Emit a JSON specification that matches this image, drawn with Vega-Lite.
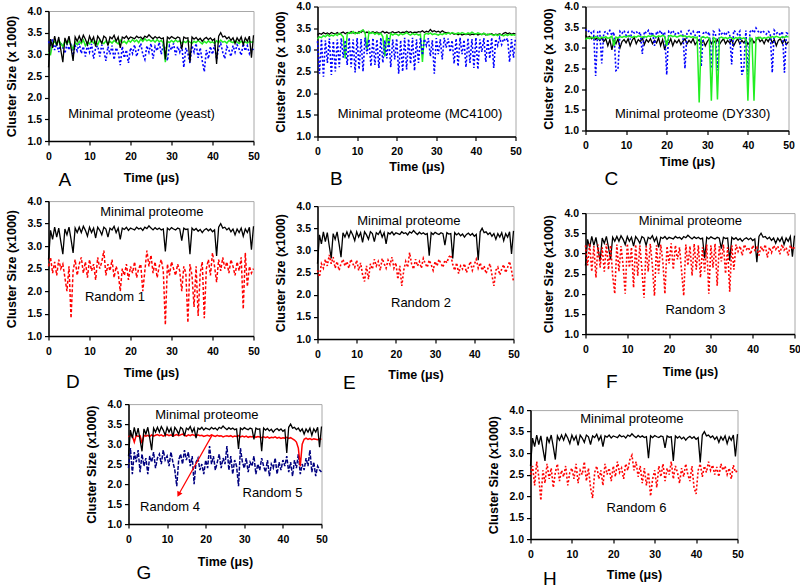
{
"$schema": "https://vega.github.io/schema/vega-lite/v6.json",
"background": "white",
"padding": {"left": 4.5, "top": 0.5, "right": 0, "bottom": 0},
"config": {
 "view": {"stroke": "#a8a8a8", "strokeWidth": 1},
 "axis": {"labelFont": "Liberation Sans", "labelFontSize": 10.5, "labelFontWeight": "bold", "labelColor": "black", "titleFont": "Liberation Sans", "titleFontSize": 12.5, "titleFontWeight": "bold", "titleColor": "black", "domainColor": "black", "domainWidth": 1.5, "tickColor": "black", "tickSize": 4, "tickWidth": 1.2, "grid": false, "labelFlush": false, "labelOverlap": false},
 "axisX": {"labelPadding": 6},
 "axisY": {"labelPadding": 3, "titlePadding": 8},
 "text": {"font": "Liberation Sans", "fontSize": 13, "color": "black"},
 "title": {"orient": "bottom", "anchor": "start", "font": "Liberation Sans", "fontSize": 19, "fontWeight": "normal", "color": "black", "offset": 0, "frame": "group"}
},
"datasets": {"ts": [
{"t":0,"mp":2.70,"bk":3.35,"bg":3.25,"bb":3.20,"ag":3.05,"ab":3.30,"ck":3.30,"cb":3.45,"cg":3.20,"dr":2.55,"er":2.55,"fr":3.20,"gr":3.18,"gb":2.40,"hr":2.50},
{"t":0.5,"mp":3.35,"bk":3.38,"bg":3.30,"bb":2.45,"ag":3.00,"ab":3.22,"ck":3.25,"cb":3.38,"cg":3.24,"dr":2.75,"er":2.40,"fr":2.70,"gr":3.22,"gb":2.90,"hr":2.70},
{"t":1,"mp":3.15,"bk":3.36,"bg":3.28,"bb":3.25,"ag":3.25,"ab":3.35,"ck":3.28,"cb":3.42,"cg":3.22,"dr":2.40,"er":2.70,"fr":3.25,"gr":3.20,"gb":2.25,"hr":2.25},
{"t":1.5,"mp":3.42,"bk":3.40,"bg":3.33,"bb":2.38,"ag":3.30,"ab":3.10,"ck":3.22,"cb":3.35,"cg":3.26,"dr":2.65,"er":2.60,"fr":2.55,"gr":3.05,"gb":2.80,"hr":2.80},
{"t":2,"mp":3.20,"bk":3.37,"bg":3.30,"bb":3.22,"ag":3.22,"ab":3.25,"ck":3.27,"cb":3.40,"cg":3.23,"dr":2.35,"er":2.80,"fr":3.18,"gr":3.22,"gb":2.55,"hr":2.45},
{"t":2.5,"mp":3.40,"bk":3.39,"bg":3.35,"bb":2.70,"ag":3.32,"ab":3.05,"ck":3.20,"cb":2.32,"cg":3.27,"dr":2.70,"er":2.65,"fr":2.40,"gr":3.19,"gb":2.85,"hr":1.90},
{"t":3,"mp":3.10,"bk":3.36,"bg":3.31,"bb":3.26,"ag":3.25,"ab":3.28,"ck":3.25,"cb":3.38,"cg":3.25,"dr":2.50,"er":2.90,"fr":3.22,"gr":3.21,"gb":2.30,"hr":2.60},
{"t":3.5,"mp":2.82,"bk":3.40,"bg":3.34,"bb":2.42,"ag":3.18,"ab":3.15,"ck":3.18,"cb":3.42,"cg":3.22,"dr":2.60,"er":2.70,"fr":2.65,"gr":3.02,"gb":2.75,"hr":2.30},
{"t":4,"mp":3.38,"bk":3.38,"bg":3.32,"bb":3.20,"ag":3.30,"ab":3.02,"ck":3.24,"cb":2.62,"cg":3.26,"dr":2.30,"er":2.85,"fr":3.15,"gr":3.22,"gb":2.45,"hr":2.75},
{"t":4.5,"mp":3.25,"bk":3.37,"bg":3.36,"bb":2.50,"ag":3.24,"ab":3.24,"ck":3.15,"cb":3.36,"cg":3.24,"dr":2.00,"er":2.60,"fr":2.55,"gr":3.20,"gb":2.65,"hr":2.40},
{"t":5,"mp":3.42,"bk":3.40,"bg":3.33,"bb":3.24,"ag":3.32,"ab":3.10,"ck":3.22,"cb":3.40,"cg":3.27,"dr":2.55,"er":2.75,"fr":3.24,"gr":3.22,"gb":2.25,"hr":2.65},
{"t":5.5,"mp":3.15,"bk":3.36,"bg":3.38,"bb":2.60,"ag":3.20,"ab":3.26,"ck":3.05,"cb":3.34,"cg":3.23,"dr":1.40,"er":2.55,"fr":2.60,"gr":3.19,"gb":2.70,"hr":2.20},
{"t":6,"mp":2.85,"bk":3.39,"bg":3.35,"bb":3.27,"ag":3.12,"ab":2.98,"ck":3.20,"cb":3.42,"cg":3.25,"dr":2.45,"er":2.70,"fr":3.20,"gr":3.23,"gb":2.55,"hr":2.55},
{"t":6.5,"mp":3.40,"bk":3.41,"bg":3.30,"bb":2.82,"ag":3.28,"ab":3.20,"ck":2.95,"cb":3.30,"cg":3.28,"dr":2.70,"er":2.80,"fr":2.45,"gr":3.20,"gb":2.80,"hr":2.75},
{"t":7,"mp":3.30,"bk":3.37,"bg":2.80,"bb":3.22,"ag":3.22,"ab":3.08,"ck":3.18,"cb":3.38,"cg":3.05,"dr":2.35,"er":2.65,"fr":2.00,"gr":3.22,"gb":2.40,"hr":2.35},
{"t":7.5,"mp":3.42,"bk":3.40,"bg":3.36,"bb":2.65,"ag":3.30,"ab":3.25,"ck":3.10,"cb":2.45,"cg":3.26,"dr":2.60,"er":2.75,"fr":3.22,"gr":3.24,"gb":2.65,"hr":2.60},
{"t":8,"mp":3.30,"bk":3.38,"bg":3.40,"bb":3.28,"ag":3.25,"ab":3.02,"ck":3.22,"cb":2.48,"cg":3.24,"dr":2.75,"er":2.60,"fr":2.55,"gr":3.21,"gb":2.75,"hr":2.45},
{"t":8.5,"mp":3.44,"bk":3.42,"bg":3.38,"bb":2.60,"ag":3.33,"ab":3.18,"ck":3.00,"cb":3.40,"cg":3.27,"dr":2.40,"er":2.80,"fr":3.18,"gr":3.23,"gb":2.50,"hr":2.70},
{"t":9,"mp":3.35,"bk":3.39,"bg":3.42,"bb":3.24,"ag":3.20,"ab":2.95,"ck":3.15,"cb":3.35,"cg":3.25,"dr":2.65,"er":2.70,"fr":2.70,"gr":3.20,"gb":2.85,"hr":2.25},
{"t":9.5,"mp":3.22,"bk":3.40,"bg":3.37,"bb":2.48,"ag":3.28,"ab":3.22,"ck":3.20,"cb":3.42,"cg":3.28,"dr":2.30,"er":2.62,"fr":2.00,"gr":3.22,"gb":2.60,"hr":2.55},
{"t":10,"mp":3.42,"bk":3.38,"bg":3.40,"bb":3.27,"ag":3.24,"ab":3.05,"ck":3.12,"cb":3.30,"cg":3.26,"dr":2.70,"er":2.78,"fr":3.24,"gr":3.24,"gb":2.70,"hr":2.65},
{"t":10.5,"mp":3.30,"bk":3.42,"bg":3.38,"bb":2.55,"ag":3.32,"ab":3.24,"ck":3.22,"cb":3.38,"cg":3.29,"dr":2.45,"er":2.55,"fr":2.65,"gr":3.21,"gb":2.45,"hr":2.40},
{"t":11,"mp":3.40,"bk":3.40,"bg":3.43,"bb":3.25,"ag":3.26,"ab":2.90,"ck":3.05,"cb":3.20,"cg":3.27,"dr":2.60,"er":2.72,"fr":3.15,"gr":3.23,"gb":2.80,"hr":2.75},
{"t":11.5,"mp":3.18,"bk":3.45,"bg":3.46,"bb":2.50,"ag":3.30,"ab":3.15,"ck":3.18,"cb":3.42,"cg":3.25,"dr":2.25,"er":2.45,"fr":2.15,"gr":3.20,"gb":2.55,"hr":2.30},
{"t":12,"mp":3.42,"bk":3.39,"bg":3.40,"bb":3.28,"ag":3.22,"ab":3.20,"ck":3.25,"cb":3.36,"cg":3.28,"dr":2.75,"er":2.30,"fr":3.22,"gr":3.22,"gb":2.35,"hr":2.60},
{"t":12.5,"mp":3.35,"bk":3.41,"bg":3.02,"bb":2.90,"ag":3.33,"ab":2.95,"ck":3.10,"cb":3.40,"cg":3.26,"dr":2.50,"er":2.65,"fr":2.45,"gr":3.24,"gb":1.95,"hr":2.50},
{"t":13,"mp":3.25,"bk":3.38,"bg":3.42,"bb":3.24,"ag":3.27,"ab":3.22,"ck":3.20,"cb":3.33,"cg":3.29,"dr":2.65,"er":2.35,"fr":3.20,"gr":3.21,"gb":2.60,"hr":2.80},
{"t":13.5,"mp":3.42,"bk":3.40,"bg":3.38,"bb":2.62,"ag":3.25,"ab":3.08,"ck":3.15,"cb":3.38,"cg":3.27,"dr":2.90,"er":2.70,"fr":2.60,"gr":3.23,"gb":2.75,"hr":2.35},
{"t":14,"mp":3.38,"bk":3.42,"bg":3.40,"bb":3.27,"ag":3.31,"ab":2.85,"ck":3.24,"cb":2.85,"cg":3.25,"dr":2.35,"er":2.58,"fr":1.90,"gr":3.25,"gb":2.50,"hr":2.65},
{"t":14.5,"mp":3.20,"bk":3.39,"bg":3.36,"bb":2.65,"ag":3.24,"ab":3.18,"ck":3.08,"cb":3.40,"cg":3.28,"dr":2.60,"er":2.80,"fr":3.18,"gr":3.22,"gb":2.85,"hr":2.20},
{"t":15,"mp":3.40,"bk":3.41,"bg":3.39,"bb":3.24,"ag":3.30,"ab":3.00,"ck":3.20,"cb":3.35,"cg":3.26,"dr":2.45,"er":2.65,"fr":2.55,"gr":3.20,"gb":2.60,"hr":1.95},
{"t":15.5,"mp":3.36,"bk":3.38,"bg":3.35,"bb":2.58,"ag":3.26,"ab":3.20,"ck":3.14,"cb":3.42,"cg":3.29,"dr":2.70,"er":2.75,"fr":3.24,"gr":3.23,"gb":2.80,"hr":2.55},
{"t":16,"mp":3.44,"bk":3.40,"bg":3.38,"bb":3.28,"ag":3.32,"ab":2.88,"ck":3.22,"cb":3.30,"cg":3.27,"dr":2.30,"er":2.55,"fr":2.70,"gr":3.21,"gb":2.45,"hr":2.70},
{"t":16.5,"mp":3.30,"bk":3.43,"bg":3.30,"bb":2.70,"ag":3.28,"ab":3.15,"ck":3.10,"cb":3.38,"cg":3.30,"dr":2.55,"er":2.82,"fr":1.95,"gr":3.24,"gb":2.70,"hr":2.40},
{"t":17,"mp":3.40,"bk":3.39,"bg":2.85,"bb":3.22,"ag":3.24,"ab":3.05,"ck":3.18,"cb":3.05,"cg":3.28,"dr":2.40,"er":2.70,"fr":3.20,"gr":3.22,"gb":2.00,"hr":2.60},
{"t":17.5,"mp":3.15,"bk":3.41,"bg":3.36,"bb":2.80,"ag":3.33,"ab":2.75,"ck":3.12,"cb":3.40,"cg":3.26,"dr":2.00,"er":2.60,"fr":2.50,"gr":3.20,"gb":2.55,"hr":2.25},
{"t":18,"mp":3.40,"bk":3.38,"bg":3.10,"bb":3.27,"ag":3.27,"ab":3.18,"ck":3.24,"cb":3.34,"cg":3.29,"dr":2.50,"er":2.78,"fr":3.22,"gr":3.23,"gb":2.65,"hr":2.75},
{"t":18.5,"mp":3.37,"bk":3.40,"bg":3.38,"bb":2.60,"ag":3.30,"ab":2.92,"ck":3.05,"cb":3.42,"cg":3.27,"dr":2.35,"er":2.68,"fr":2.80,"gr":3.21,"gb":2.35,"hr":2.50},
{"t":19,"mp":3.42,"bk":3.42,"bg":3.34,"bb":3.24,"ag":3.25,"ab":3.10,"ck":3.20,"cb":3.30,"cg":3.30,"dr":2.60,"er":2.85,"fr":2.00,"gr":3.22,"gb":2.50,"hr":2.65},
{"t":19.5,"mp":3.35,"bk":3.39,"bg":3.37,"bb":2.78,"ag":3.32,"ab":2.80,"ck":2.95,"cb":3.38,"cg":3.28,"dr":2.25,"er":2.60,"fr":3.18,"gr":3.19,"gb":2.25,"hr":2.35},
{"t":20,"mp":3.40,"bk":3.40,"bg":3.36,"bb":3.26,"ag":3.28,"ab":3.15,"ck":3.15,"cb":2.35,"cg":3.05,"dr":2.55,"er":2.72,"fr":2.75,"gr":3.21,"gb":2.60,"hr":2.70},
{"t":20.5,"mp":3.38,"bk":3.42,"bg":3.33,"bb":2.45,"ag":3.34,"ab":3.02,"ck":3.10,"cb":3.40,"cg":3.28,"dr":2.40,"er":2.35,"fr":3.25,"gr":3.22,"gb":2.40,"hr":2.45},
{"t":21,"mp":3.36,"bk":3.39,"bg":3.38,"bb":3.22,"ag":3.29,"ab":3.22,"ck":3.22,"cb":3.36,"cg":3.30,"dr":2.65,"er":2.65,"fr":2.60,"gr":3.20,"gb":2.95,"hr":2.80},
{"t":21.5,"mp":3.42,"bk":3.41,"bg":3.35,"bb":2.50,"ag":3.33,"ab":2.95,"ck":3.05,"cb":3.42,"cg":3.27,"dr":2.30,"er":2.20,"fr":3.20,"gr":3.23,"gb":2.50,"hr":2.55},
{"t":22,"mp":3.38,"bk":3.40,"bg":3.37,"bb":3.28,"ag":3.27,"ab":3.12,"ck":3.18,"cb":3.32,"cg":3.29,"dr":2.50,"er":2.55,"fr":2.85,"gr":3.21,"gb":2.70,"hr":2.65},
{"t":22.5,"mp":3.40,"bk":3.43,"bg":3.40,"bb":2.55,"ag":3.35,"ab":3.25,"ck":3.12,"cb":3.38,"cg":3.26,"dr":2.60,"er":2.75,"fr":3.15,"gr":3.19,"gb":2.35,"hr":2.40},
{"t":23,"mp":3.35,"bk":3.40,"bg":3.36,"bb":3.25,"ag":3.30,"ab":3.00,"ck":3.20,"cb":3.35,"cg":3.28,"dr":2.00,"er":2.62,"fr":2.55,"gr":3.22,"gb":2.55,"hr":2.75},
{"t":23.5,"mp":3.42,"bk":3.42,"bg":3.34,"bb":2.68,"ag":3.36,"ab":2.88,"ck":3.08,"cb":3.40,"cg":3.30,"dr":2.45,"er":2.95,"fr":1.95,"gr":3.20,"gb":2.75,"hr":2.60},
{"t":24,"mp":3.39,"bk":3.39,"bg":3.38,"bb":3.28,"ag":3.31,"ab":3.20,"ck":3.16,"cb":3.30,"cg":3.27,"dr":2.90,"er":2.70,"fr":3.22,"gr":3.21,"gb":2.40,"hr":2.85},
{"t":24.5,"mp":3.45,"bk":3.41,"bg":3.35,"bb":2.52,"ag":3.34,"ab":3.05,"ck":3.22,"cb":2.50,"cg":3.29,"dr":2.55,"er":2.58,"fr":2.70,"gr":3.18,"gb":2.65,"hr":2.95},
{"t":25,"mp":3.40,"bk":3.40,"bg":3.37,"bb":3.24,"ag":3.30,"ab":3.25,"ck":3.10,"cb":3.38,"cg":3.26,"dr":2.80,"er":2.80,"fr":3.18,"gr":3.20,"gb":2.50,"hr":2.60},
{"t":25.5,"mp":3.36,"bk":3.42,"bg":3.34,"bb":2.70,"ag":3.33,"ab":2.90,"ck":3.18,"cb":3.42,"cg":3.28,"dr":2.40,"er":2.65,"fr":2.45,"gr":3.21,"gb":2.95,"hr":2.80},
{"t":26,"mp":3.41,"bk":3.41,"bg":3.36,"bb":3.27,"ag":3.28,"ab":3.18,"ck":3.12,"cb":3.34,"cg":3.25,"dr":2.65,"er":2.75,"fr":3.24,"gr":3.19,"gb":2.35,"hr":2.45},
{"t":26.5,"mp":3.37,"bk":3.44,"bg":2.72,"bb":2.88,"ag":3.34,"ab":3.08,"ck":3.22,"cb":3.40,"cg":3.27,"dr":2.30,"er":2.60,"fr":2.60,"gr":3.21,"gb":2.70,"hr":2.70},
{"t":27,"mp":3.40,"bk":3.40,"bg":3.35,"bb":3.25,"ag":3.29,"ab":3.28,"ck":3.08,"cb":3.30,"cg":3.24,"dr":2.55,"er":2.82,"fr":3.20,"gr":3.18,"gb":2.25,"hr":2.30},
{"t":27.5,"mp":3.36,"bk":3.43,"bg":3.38,"bb":3.10,"ag":3.32,"ab":3.00,"ck":3.15,"cb":3.37,"cg":3.26,"dr":2.70,"er":2.70,"fr":2.40,"gr":3.20,"gb":2.60,"hr":2.65},
{"t":28,"mp":3.38,"bk":3.41,"bg":3.36,"bb":3.27,"ag":3.26,"ab":3.22,"ck":3.20,"cb":3.42,"cg":1.68,"dr":2.45,"er":2.62,"fr":3.15,"gr":3.19,"gb":2.45,"hr":2.25},
{"t":28.5,"mp":2.88,"bk":3.47,"bg":3.39,"bb":2.85,"ag":2.82,"ab":3.12,"ck":3.10,"cb":2.55,"cg":3.25,"dr":1.25,"er":2.78,"fr":2.55,"gr":3.21,"gb":1.95,"hr":2.55},
{"t":29,"mp":3.40,"bk":3.42,"bg":3.35,"bb":3.22,"ag":3.30,"ab":2.85,"ck":3.18,"cb":3.35,"cg":3.27,"dr":2.60,"er":2.68,"fr":3.22,"gr":3.18,"gb":2.90,"hr":2.00},
{"t":29.5,"mp":3.36,"bk":3.44,"bg":3.37,"bb":2.45,"ag":3.27,"ab":3.20,"ck":3.05,"cb":3.40,"cg":3.24,"dr":2.35,"er":2.55,"fr":2.00,"gr":3.20,"gb":2.55,"hr":2.40},
{"t":30,"mp":3.41,"bk":3.41,"bg":3.36,"bb":3.27,"ag":3.32,"ab":3.10,"ck":3.15,"cb":3.32,"cg":3.26,"dr":2.65,"er":2.75,"fr":3.20,"gr":3.18,"gb":2.40,"hr":2.60},
{"t":30.5,"mp":3.38,"bk":3.43,"bg":3.34,"bb":2.90,"ag":3.28,"ab":3.25,"ck":3.22,"cb":3.38,"cg":3.23,"dr":2.50,"er":2.65,"fr":2.65,"gr":3.20,"gb":2.65,"hr":2.20},
{"t":31,"mp":3.36,"bk":3.40,"bg":3.37,"bb":3.24,"ag":3.33,"ab":2.98,"ck":3.10,"cb":2.50,"cg":1.72,"dr":2.35,"er":2.80,"fr":3.24,"gr":3.17,"gb":2.30,"hr":2.70},
{"t":31.5,"mp":3.40,"bk":3.44,"bg":3.35,"bb":2.78,"ag":3.29,"ab":3.18,"ck":3.18,"cb":3.40,"cg":3.25,"dr":2.60,"er":2.70,"fr":2.20,"gr":3.19,"gb":2.55,"hr":2.45},
{"t":32,"mp":3.38,"bk":3.41,"bg":3.38,"bb":3.28,"ag":3.31,"ab":3.05,"ck":3.12,"cb":3.36,"cg":3.22,"dr":2.45,"er":2.62,"fr":3.18,"gr":3.18,"gb":2.45,"hr":2.75},
{"t":32.5,"mp":3.12,"bk":3.39,"bg":3.36,"bb":3.05,"ag":3.26,"ab":3.22,"ck":3.20,"cb":2.45,"cg":1.75,"dr":2.00,"er":2.78,"fr":2.80,"gr":3.20,"gb":2.70,"hr":2.35},
{"t":33,"mp":3.40,"bk":3.40,"bg":3.39,"bb":3.26,"ag":3.30,"ab":2.70,"ck":3.08,"cb":3.42,"cg":3.24,"dr":2.55,"er":2.72,"fr":3.22,"gr":3.17,"gb":2.25,"hr":2.65},
{"t":33.5,"mp":3.37,"bk":3.37,"bg":3.37,"bb":2.95,"ag":3.27,"ab":3.15,"ck":3.16,"cb":3.34,"cg":3.26,"dr":2.40,"er":2.85,"fr":2.50,"gr":3.19,"gb":2.50,"hr":2.50},
{"t":34,"mp":3.38,"bk":3.39,"bg":3.40,"bb":3.22,"ag":3.32,"ab":3.02,"ck":3.22,"cb":3.38,"cg":3.23,"dr":1.30,"er":2.90,"fr":3.15,"gr":3.18,"gb":2.35,"hr":2.80},
{"t":34.5,"mp":2.82,"bk":3.36,"bg":3.38,"bb":2.68,"ag":3.28,"ab":2.80,"ck":3.10,"cb":3.30,"cg":3.25,"dr":2.60,"er":2.68,"fr":2.05,"gr":3.16,"gb":2.65,"hr":2.40},
{"t":35,"mp":3.40,"bk":3.38,"bg":3.36,"bb":3.26,"ag":3.25,"ab":3.20,"ck":3.18,"cb":3.40,"cg":3.22,"dr":2.35,"er":2.55,"fr":3.20,"gr":3.18,"gb":2.45,"hr":2.70},
{"t":35.5,"mp":3.35,"bk":3.35,"bg":3.39,"bb":2.62,"ag":3.30,"ab":3.05,"ck":3.12,"cb":3.35,"cg":3.26,"dr":1.65,"er":2.72,"fr":2.60,"gr":3.16,"gb":2.30,"hr":2.55},
{"t":36,"mp":3.39,"bk":3.37,"bg":3.37,"bb":3.28,"ag":3.27,"ab":3.25,"ck":3.20,"cb":2.60,"cg":3.24,"dr":2.55,"er":2.48,"fr":3.22,"gr":3.18,"gb":2.60,"hr":2.30},
{"t":36.5,"mp":3.33,"bk":3.34,"bg":3.40,"bb":2.90,"ag":3.32,"ab":2.92,"ck":3.05,"cb":3.42,"cg":3.21,"dr":1.45,"er":2.65,"fr":3.05,"gr":3.15,"gb":2.20,"hr":2.65},
{"t":37,"mp":3.37,"bk":3.36,"bg":3.38,"bb":3.23,"ag":3.28,"ab":3.15,"ck":3.15,"cb":3.38,"cg":3.25,"dr":2.40,"er":2.58,"fr":3.18,"gr":3.17,"gb":2.50,"hr":2.45},
{"t":37.5,"mp":3.30,"bk":3.35,"bg":3.36,"bb":2.60,"ag":3.24,"ab":2.85,"ck":3.22,"cb":3.32,"cg":3.23,"dr":2.65,"er":2.70,"fr":2.95,"gr":3.16,"gb":2.40,"hr":2.75},
{"t":38,"mp":3.36,"bk":3.37,"bg":3.39,"bb":3.27,"ag":3.30,"ab":2.60,"ck":3.10,"cb":3.40,"cg":3.26,"dr":1.40,"er":2.50,"fr":3.22,"gr":3.18,"gb":2.65,"hr":2.50},
{"t":38.5,"mp":3.39,"bk":3.34,"bg":3.37,"bb":2.70,"ag":3.26,"ab":3.10,"ck":3.18,"cb":2.35,"cg":3.22,"dr":2.50,"er":2.62,"fr":3.10,"gr":3.15,"gb":2.25,"hr":2.35},
{"t":39,"mp":3.34,"bk":3.36,"bg":3.41,"bb":3.25,"ag":3.31,"ab":2.90,"ck":3.12,"cb":2.50,"cg":3.24,"dr":2.70,"er":2.75,"fr":3.15,"gr":3.17,"gb":2.55,"hr":2.70},
{"t":39.5,"mp":3.38,"bk":3.35,"bg":3.38,"bb":2.58,"ag":3.27,"ab":3.18,"ck":3.20,"cb":3.42,"cg":3.21,"dr":2.35,"er":2.55,"fr":2.98,"gr":3.14,"gb":2.35,"hr":2.20},
{"t":40,"mp":3.32,"bk":3.37,"bg":3.36,"bb":3.28,"ag":3.29,"ab":3.00,"ck":3.08,"cb":2.35,"cg":1.72,"dr":2.85,"er":2.68,"fr":3.20,"gr":3.16,"gb":2.60,"hr":2.05},
{"t":40.5,"mp":3.36,"bk":3.34,"bg":3.39,"bb":2.55,"ag":3.25,"ab":3.22,"ck":3.15,"cb":3.38,"cg":3.24,"dr":2.55,"er":2.80,"fr":3.08,"gr":3.15,"gb":2.45,"hr":2.60},
{"t":41,"mp":2.78,"bk":3.36,"bg":3.37,"bb":3.24,"ag":3.31,"ab":2.88,"ck":3.22,"cb":3.44,"cg":3.22,"dr":2.20,"er":2.60,"fr":3.15,"gr":3.17,"gb":2.70,"hr":2.75},
{"t":41.5,"mp":3.42,"bk":3.35,"bg":3.35,"bb":2.95,"ag":3.27,"ab":3.15,"ck":3.12,"cb":3.36,"cg":1.72,"dr":2.70,"er":2.72,"fr":2.95,"gr":3.14,"gb":2.30,"hr":2.45},
{"t":42,"mp":3.50,"bk":3.38,"bg":3.38,"bb":3.27,"ag":3.33,"ab":3.25,"ck":3.18,"cb":3.48,"cg":3.25,"dr":2.45,"er":2.55,"fr":3.18,"gr":3.16,"gb":2.55,"hr":2.70},
{"t":42.5,"mp":3.40,"bk":3.34,"bg":3.36,"bb":2.72,"ag":3.28,"ab":3.05,"ck":3.25,"cb":3.40,"cg":3.23,"dr":2.75,"er":2.65,"fr":3.05,"gr":3.13,"gb":2.20,"hr":2.55},
{"t":43,"mp":3.42,"bk":3.36,"bg":3.34,"bb":3.25,"ag":3.30,"ab":2.90,"ck":3.15,"cb":3.35,"cg":3.26,"dr":2.50,"er":2.48,"fr":3.22,"gr":3.10,"gb":2.60,"hr":2.80},
{"t":43.5,"mp":3.36,"bk":3.35,"bg":3.37,"bb":2.80,"ag":3.26,"ab":3.18,"ck":3.20,"cb":3.42,"cg":3.22,"dr":2.65,"er":2.60,"fr":2.90,"gr":3.05,"gb":2.40,"hr":2.60},
{"t":44,"mp":3.40,"bk":3.37,"bg":3.35,"bb":3.28,"ag":3.32,"ab":3.10,"ck":3.10,"cb":3.38,"cg":3.25,"dr":2.40,"er":2.70,"fr":3.15,"gr":2.90,"gb":2.75,"hr":2.72},
{"t":44.5,"mp":3.32,"bk":3.34,"bg":3.33,"bb":2.58,"ag":3.29,"ab":2.95,"ck":3.22,"cb":3.33,"cg":3.23,"dr":2.70,"er":2.45,"fr":3.02,"gr":2.45,"gb":2.25,"hr":2.50},
{"t":45,"mp":3.38,"bk":3.36,"bg":3.35,"bb":3.25,"ag":3.27,"ab":3.20,"ck":3.15,"cb":3.40,"cg":3.26,"dr":2.55,"er":2.20,"fr":3.20,"gr":3.00,"gb":2.50,"hr":2.68},
{"t":45.5,"mp":3.25,"bk":3.35,"bg":3.33,"bb":3.10,"ag":3.31,"ab":3.05,"ck":3.25,"cb":3.36,"cg":3.24,"dr":2.35,"er":2.55,"fr":3.10,"gr":3.12,"gb":2.35,"hr":2.45},
{"t":46,"mp":3.38,"bk":3.37,"bg":3.36,"bb":3.28,"ag":3.28,"ab":3.22,"ck":3.12,"cb":2.40,"cg":3.27,"dr":2.65,"er":2.62,"fr":3.18,"gr":3.15,"gb":2.65,"hr":2.75},
{"t":46.5,"mp":3.30,"bk":3.34,"bg":3.34,"bb":3.12,"ag":3.25,"ab":3.12,"ck":3.20,"cb":3.42,"cg":3.25,"dr":2.45,"er":2.45,"fr":2.98,"gr":3.12,"gb":2.45,"hr":2.60},
{"t":47,"mp":3.40,"bk":3.38,"bg":3.32,"bb":3.26,"ag":3.30,"ab":2.98,"ck":3.05,"cb":3.35,"cg":3.28,"dr":2.75,"er":2.58,"fr":3.22,"gr":3.14,"gb":2.85,"hr":2.70},
{"t":47.5,"mp":3.22,"bk":3.40,"bg":3.35,"bb":3.20,"ag":3.27,"ab":3.25,"ck":3.18,"cb":3.38,"cg":3.26,"dr":1.60,"er":2.68,"fr":3.08,"gr":3.11,"gb":2.30,"hr":2.50},
{"t":48,"mp":3.38,"bk":3.37,"bg":3.33,"bb":3.27,"ag":3.29,"ab":3.08,"ck":3.22,"cb":3.30,"cg":3.24,"dr":2.85,"er":2.50,"fr":3.15,"gr":3.13,"gb":2.55,"hr":2.65},
{"t":48.5,"mp":3.30,"bk":3.39,"bg":3.36,"bb":2.72,"ag":3.26,"ab":3.20,"ck":3.10,"cb":3.40,"cg":3.27,"dr":2.10,"er":2.62,"fr":2.95,"gr":3.12,"gb":2.20,"hr":2.40},
{"t":49,"mp":3.42,"bk":3.36,"bg":3.34,"bb":3.25,"ag":3.30,"ab":3.02,"ck":3.20,"cb":2.40,"cg":3.25,"dr":2.55,"er":2.75,"fr":3.20,"gr":3.11,"gb":2.45,"hr":2.72},
{"t":49.5,"mp":2.92,"bk":3.38,"bg":3.35,"bb":2.82,"ag":3.28,"ab":3.15,"ck":3.08,"cb":3.36,"cg":3.28,"dr":2.40,"er":2.55,"fr":3.10,"gr":3.13,"gb":2.35,"hr":2.55},
{"t":50,"mp":3.44,"bk":3.37,"bg":3.33,"bb":3.28,"ag":3.29,"ab":3.10,"ck":3.15,"cb":3.34,"cg":3.26,"dr":2.50,"er":2.30,"fr":3.15,"gr":3.12,"gb":2.30,"hr":2.60}
]},
"data": {"name": "ts"},
"vconcat": [
 {"hconcat": [
  {"hconcat": [
   {"vconcat": [
    {"vconcat": [
     {"data": {"values": []}, "mark": "point", "width": 10, "height": 1, "view": {"stroke": null}},
     {"width": 205, "height": 130,
      "title": {"text": "A", "dx": 10, "dy": -16.6},
      "encoding": {"x": {"field": "t", "type": "quantitative", "scale": {"domain": [0, 50], "nice": false}, "axis": {"values": [0, 10, 20, 30, 40, 50], "tickCount": 12, "title": "Time (μs)", "titlePadding": 9.5, "labelOverlap": false}}},
      "layer": [
       {"mark": {"type": "line", "color": "#0000ff", "strokeWidth": 1.6, "strokeDash": [2, 2]}, "encoding": {"y": {"field": "ab", "type": "quantitative", "scale": {"domain": [1, 4], "nice": false, "zero": false}, "axis": {"values": [1, 1.5, 2, 2.5, 3, 3.5, 4], "tickCount": 14, "format": ".1f", "title": "Cluster Size (x 1000)", "labelOverlap": false}}}},
       {"mark": {"type": "line", "color": "#22ee22", "strokeWidth": 1.5}, "encoding": {"y": {"field": "ag", "type": "quantitative", "axis": {"title": "Cluster Size (x 1000)", "labelOverlap": false}}}},
       {"mark": {"type": "line", "color": "#000000", "strokeWidth": 1.3}, "encoding": {"y": {"field": "mp", "type": "quantitative", "axis": {"title": "Cluster Size (x 1000)", "labelOverlap": false}}}},
       {"data": {"values": [{"x": 22.7, "y": 1.62, "label": "Minimal proteome (yeast)"}]}, "mark": {"type": "text"}, "encoding": {"x": {"field": "x", "type": "quantitative"}, "y": {"field": "y", "type": "quantitative"}, "text": {"field": "label"}}}
      ]}
    ], "spacing": -2.5},
    {"width": 205, "height": 135,
     "title": {"text": "D", "dx": 17.6, "dy": -9.6},
     "encoding": {"x": {"field": "t", "type": "quantitative", "scale": {"domain": [0, 50], "nice": false}, "axis": {"values": [0, 10, 20, 30, 40, 50], "tickCount": 12, "title": "Time (μs)", "titlePadding": 9.5, "labelOverlap": false}}},
     "layer": [
      {"mark": {"type": "line", "color": "#000000", "strokeWidth": 1.3}, "encoding": {"y": {"field": "mp", "type": "quantitative", "scale": {"domain": [1, 4], "nice": false, "zero": false}, "axis": {"values": [1, 1.5, 2, 2.5, 3, 3.5, 4], "tickCount": 14, "format": ".1f", "title": "Cluster Size (x1000)", "labelOverlap": false}}}},
      {"mark": {"type": "line", "color": "#ff0000", "strokeWidth": 1.5, "strokeDash": [3, 2]}, "encoding": {"y": {"field": "dr", "type": "quantitative", "axis": {"title": "Cluster Size (x1000)", "labelOverlap": false}}}},
      {"data": {"values": [{"x": 25.2, "y": 3.76, "label": "Minimal proteome"}, {"x": 16.2, "y": 1.86, "label": "Random 1"}]}, "mark": {"type": "text"}, "encoding": {"x": {"field": "x", "type": "quantitative"}, "y": {"field": "y", "type": "quantitative"}, "text": {"field": "label"}}}
     ]}
   ], "spacing": 4.6},
   {"vconcat": [
    {"width": 198, "height": 130,
     "title": {"text": "B", "dx": 12.6, "dy": -6.6},
     "encoding": {"x": {"field": "t", "type": "quantitative", "scale": {"domain": [0, 50], "nice": false}, "axis": {"values": [0, 10, 20, 30, 40, 50], "tickCount": 12, "title": "Time (μs)", "titlePadding": 3.5, "labelOverlap": false}}},
     "layer": [
      {"mark": {"type": "line", "color": "#000000", "strokeWidth": 1.3}, "encoding": {"y": {"field": "bk", "type": "quantitative", "scale": {"domain": [1, 4], "nice": false, "zero": false}, "axis": {"values": [1, 1.5, 2, 2.5, 3, 3.5, 4], "tickCount": 14, "format": ".1f", "title": "Cluster Size (x 1000)", "labelOverlap": false}}}},
      {"mark": {"type": "line", "color": "#22ee22", "strokeWidth": 1.5}, "encoding": {"y": {"field": "bg", "type": "quantitative", "axis": {"title": "Cluster Size (x 1000)", "labelOverlap": false}}}},
      {"mark": {"type": "line", "color": "#0000ff", "strokeWidth": 1.6, "strokeDash": [2, 2]}, "encoding": {"y": {"field": "bb", "type": "quantitative", "axis": {"title": "Cluster Size (x 1000)", "labelOverlap": false}}}},
      {"data": {"values": [{"x": 25.9, "y": 1.53, "label": "Minimal proteome (MC4100)"}]}, "mark": {"type": "text"}, "encoding": {"x": {"field": "x", "type": "quantitative"}, "y": {"field": "y", "type": "quantitative"}, "text": {"field": "label"}}}
     ]},
    {"width": 196, "height": 133,
     "title": {"text": "E", "dx": 25.6, "dy": -10.6},
     "encoding": {"x": {"field": "t", "type": "quantitative", "scale": {"domain": [0, 50], "nice": false}, "axis": {"values": [0, 10, 20, 30, 40, 50], "tickCount": 12, "title": "Time (μs)", "titlePadding": 8.5, "labelOverlap": false}}},
     "layer": [
      {"mark": {"type": "line", "color": "#000000", "strokeWidth": 1.3}, "encoding": {"y": {"field": "mp", "type": "quantitative", "scale": {"domain": [1, 4], "nice": false, "zero": false}, "axis": {"values": [1, 1.5, 2, 2.5, 3, 3.5, 4], "tickCount": 14, "format": ".1f", "title": "Cluster Size (x1000)", "labelOverlap": false}}}},
      {"mark": {"type": "line", "color": "#ff0000", "strokeWidth": 1.6, "strokeDash": [2, 2]}, "encoding": {"y": {"field": "er", "type": "quantitative", "axis": {"title": "Cluster Size (x1000)", "labelOverlap": false}}}},
      {"data": {"values": [{"x": 23.3, "y": 3.66, "label": "Minimal proteome"}, {"x": 26.4, "y": 1.81, "label": "Random 2"}]}, "mark": {"type": "text"}, "encoding": {"x": {"field": "x", "type": "quantitative"}, "y": {"field": "y", "type": "quantitative"}, "text": {"field": "label"}}}
     ]}
   ], "spacing": 9.6}
  ], "spacing": 13},
  {"vconcat": [
   {"width": 203, "height": 124,
    "title": {"text": "C", "dx": 19, "dy": -1.6},
    "encoding": {"x": {"field": "t", "type": "quantitative", "scale": {"domain": [0, 50], "nice": false}, "axis": {"values": [0, 10, 20, 30, 40, 50], "tickCount": 12, "title": "Time (μs)", "titlePadding": 4.5, "labelOverlap": false}}},
    "layer": [
     {"mark": {"type": "line", "color": "#000000", "strokeWidth": 1.3}, "encoding": {"y": {"field": "ck", "type": "quantitative", "scale": {"domain": [1, 4], "nice": false, "zero": false}, "axis": {"values": [1, 1.5, 2, 2.5, 3, 3.5, 4], "tickCount": 14, "format": ".1f", "title": "Cluster Size (x 1000)", "labelOverlap": false}}}},
     {"mark": {"type": "line", "color": "#0000ff", "strokeWidth": 1.6, "strokeDash": [2, 2]}, "encoding": {"y": {"field": "cb", "type": "quantitative", "axis": {"title": "Cluster Size (x 1000)", "labelOverlap": false}}}},
     {"mark": {"type": "line", "color": "#22ee22", "strokeWidth": 1.5}, "encoding": {"y": {"field": "cg", "type": "quantitative", "axis": {"title": "Cluster Size (x 1000)", "labelOverlap": false}}}},
     {"data": {"values": [{"x": 26.4, "y": 1.41, "label": "Minimal proteome (DY330)"}]}, "mark": {"type": "text"}, "encoding": {"x": {"field": "x", "type": "quantitative"}, "y": {"field": "y", "type": "quantitative"}, "text": {"field": "label"}}}
    ]},
   {"width": 209, "height": 121,
    "title": {"text": "F", "dx": 20.6, "dy": -8.6},
    "encoding": {"x": {"field": "t", "type": "quantitative", "scale": {"domain": [0, 50], "nice": false}, "axis": {"values": [0, 10, 20, 30, 40, 50], "tickCount": 12, "title": "Time (μs)", "titlePadding": 10.5, "labelOverlap": false}}},
    "layer": [
     {"mark": {"type": "line", "color": "#000000", "strokeWidth": 1.3}, "encoding": {"y": {"field": "mp", "type": "quantitative", "scale": {"domain": [1, 4], "nice": false, "zero": false}, "axis": {"values": [1, 1.5, 2, 2.5, 3, 3.5, 4], "tickCount": 14, "format": ".1f", "title": "Cluster Size (x1000)", "labelOverlap": false}}}},
     {"mark": {"type": "line", "color": "#ff0000", "strokeWidth": 1.6, "strokeDash": [2, 2]}, "encoding": {"y": {"field": "fr", "type": "quantitative", "axis": {"title": "Cluster Size (x1000)", "labelOverlap": false}}}},
     {"data": {"values": [{"x": 25.1, "y": 3.8, "label": "Minimal proteome"}, {"x": 26.3, "y": 1.6, "label": "Random 3"}]}, "mark": {"type": "text"}, "encoding": {"x": {"field": "x", "type": "quantitative"}, "y": {"field": "y", "type": "quantitative"}, "text": {"field": "label"}}}
    ]}
  ], "spacing": 16.6}
 ], "spacing": 19},
 {"hconcat": [
  {"data": {"values": []}, "mark": "point", "width": 36, "height": 1, "view": {"stroke": null}},
  {"width": 193, "height": 120,
   "title": {"text": "G", "dx": 8, "dy": -7.6},
   "encoding": {"x": {"field": "t", "type": "quantitative", "scale": {"domain": [0, 50], "nice": false}, "axis": {"values": [0, 10, 20, 30, 40, 50], "tickCount": 12, "title": "Time (μs)", "titlePadding": 10.5, "labelOverlap": false}}},
   "layer": [
    {"mark": {"type": "line", "color": "#000080", "strokeWidth": 1.5, "strokeDash": [4, 1.5]}, "encoding": {"y": {"field": "gb", "type": "quantitative", "scale": {"domain": [1, 4], "nice": false, "zero": false}, "axis": {"values": [1, 1.5, 2, 2.5, 3, 3.5, 4], "tickCount": 14, "format": ".1f", "title": "Cluster Size (x1000)", "labelOverlap": false}}}},
    {"mark": {"type": "line", "color": "#ff0000", "strokeWidth": 1.5}, "encoding": {"y": {"field": "gr", "type": "quantitative", "axis": {"title": "Cluster Size (x1000)", "labelOverlap": false}}}},
    {"mark": {"type": "line", "color": "#000000", "strokeWidth": 1.3}, "encoding": {"y": {"field": "mp", "type": "quantitative", "axis": {"title": "Cluster Size (x1000)", "labelOverlap": false}}}},
    {"data": {"values": [{"x": 21.7, "y": 3.23, "x2": 13.1, "y2": 1.76}]}, "mark": {"type": "rule", "color": "#ff0000", "strokeWidth": 1.2}, "encoding": {"x": {"field": "x", "type": "quantitative"}, "y": {"field": "y", "type": "quantitative"}, "x2": {"field": "x2"}, "y2": {"field": "y2"}}},
    {"data": {"values": [{"x": 13.1, "y": 1.76}]}, "mark": {"type": "point", "shape": "triangle", "filled": true, "color": "#ff0000", "size": 35, "angle": 208.5, "opacity": 1}, "encoding": {"x": {"field": "x", "type": "quantitative"}, "y": {"field": "y", "type": "quantitative"}}},
    {"data": {"values": [{"x": 20.3, "y": 3.74, "label": "Minimal proteome"}, {"x": 37.3, "y": 1.78, "label": "Random 5"}, {"x": 10.75, "y": 1.44, "label": "Random 4"}]}, "mark": {"type": "text"}, "encoding": {"x": {"field": "x", "type": "quantitative"}, "y": {"field": "y", "type": "quantitative"}, "text": {"field": "label"}}}
   ]},
  {"data": {"values": []}, "mark": "point", "width": 158, "height": 1, "view": {"stroke": null}},
  {"vconcat": [
   {"data": {"values": []}, "mark": "point", "width": 10, "height": 1, "view": {"stroke": null}},
   {"width": 207, "height": 129,
    "title": {"text": "H", "dx": 12.6, "dy": -14.6},
    "encoding": {"x": {"field": "t", "type": "quantitative", "scale": {"domain": [0, 50], "nice": false}, "axis": {"values": [0, 10, 20, 30, 40, 50], "tickCount": 12, "title": "Time (μs)", "titlePadding": 8.5, "labelOverlap": false}}},
    "layer": [
     {"mark": {"type": "line", "color": "#000000", "strokeWidth": 1.3}, "encoding": {"y": {"field": "mp", "type": "quantitative", "scale": {"domain": [1, 4], "nice": false, "zero": false}, "axis": {"values": [1, 1.5, 2, 2.5, 3, 3.5, 4], "tickCount": 14, "format": ".1f", "title": "Cluster Size (x1000)", "labelOverlap": false}}}},
     {"mark": {"type": "line", "color": "#ff0000", "strokeWidth": 1.6, "strokeDash": [2, 2]}, "encoding": {"y": {"field": "hr", "type": "quantitative", "axis": {"title": "Cluster Size (x1000)", "labelOverlap": false}}}},
     {"data": {"values": [{"x": 24.5, "y": 3.79, "label": "Minimal proteome"}, {"x": 25.6, "y": 1.72, "label": "Random 6"}]}, "mark": {"type": "text"}, "encoding": {"x": {"field": "x", "type": "quantitative"}, "y": {"field": "y", "type": "quantitative"}, "text": {"field": "label"}}}
    ]}
  ], "spacing": -1}
 ], "spacing": 0}
],
"spacing": 4.6
}
